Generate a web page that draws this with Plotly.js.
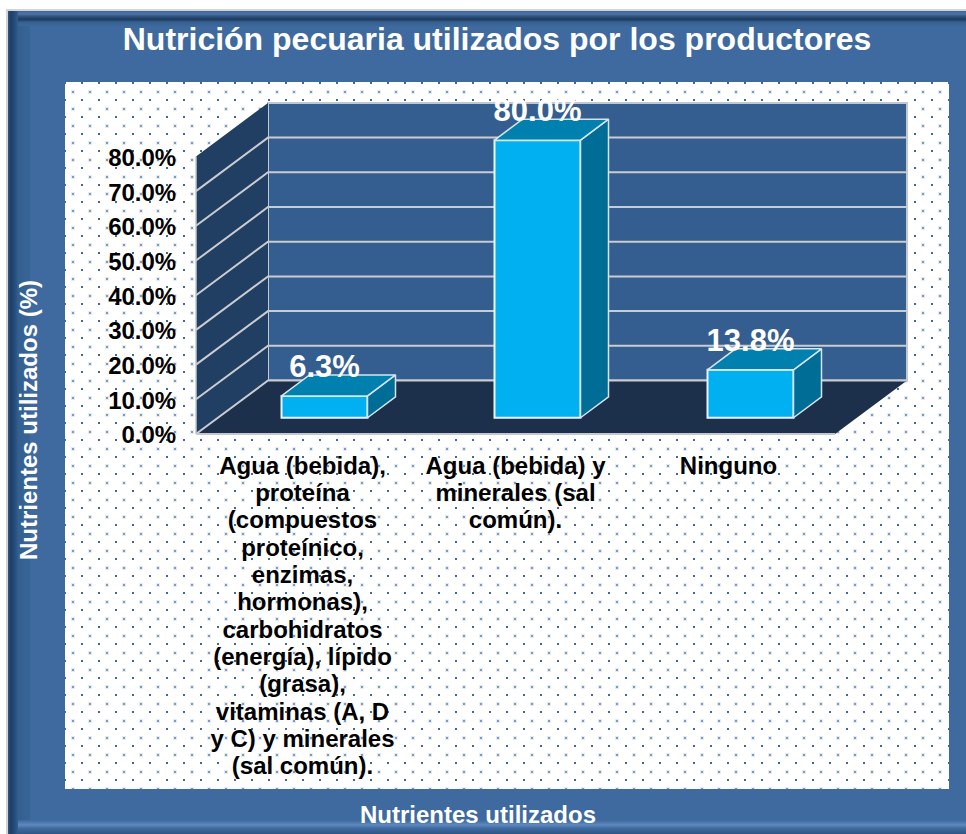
<!DOCTYPE html>
<html>
<head>
<meta charset="utf-8">
<script src="https://cdn.plot.ly/plotly-3.0.1.min.js"></script>
<style>html,body{margin:0;padding:0;background:#fff;overflow:hidden}#chart{width:966px;height:834px}</style>
</head>
<body>
<div id="chart"></div>
<script>
// ---- data ----
const categories = [
  "Agua (bebida),<br>proteína<br>(compuestos<br>proteínico,<br>enzimas,<br>hormonas),<br>carbohidratos<br>(energía), lípido<br>(grasa),<br>vitaminas (A, D<br>y C) y minerales<br>(sal común).",
  "Agua (bebida) y<br>minerales (sal<br>común).",
  "Ninguno"
];
const categoryPositions = [0, 1, 2];
const values = [6.3, 80.0, 13.8];
const valueLabels = ["6.3%", "80.0%", "13.8%"];
const yTicks = [0, 10, 20, 30, 40, 50, 60, 70, 80];
const yTickLabels = ["0.0%", "10.0%", "20.0%", "30.0%", "40.0%", "50.0%", "60.0%", "70.0%", "80.0%"];
const chartTitle = "Nutrición pecuaria utilizados por los productores";
const xTitle = "Nutrientes utilizados";
const yTitle = "Nutrientes utilizados (%)";

// ---- geometry of the oblique projection, in pixels of the page ----
const W = 966, H = 834;
const pxPerCat = 213, pxPerPct = 3.47;
const originX = 196, originY = 434;          // front-left corner of the floor
const depthX = 72 / pxPerCat, depthY = 53.5 / pxPerPct;   // floor depth in data units
const barDX = 28 / pxPerCat, barDY = 21 / pxPerPct;       // bar depth in data units
const barOffX = (depthX - barDX) / 2, barOffY = (depthY - barDY) / 2;
const barW = 86 / pxPerCat;
const axisMax = 80, xL = -0.5, xR = 2.5;

const padL = 6, padR = 4, padT = 4, padB = 4;
const plotL = originX - padL, plotR = originX + (xR - xL + depthX) * pxPerCat + padR;
const plotB = originY + padB, plotT = originY - (axisMax + depthY) * pxPerPct - padT;
const xRange = [xL - padL / pxPerCat, xL + (plotR - originX) / pxPerCat];
const yRange = [-padB / pxPerPct, (originY - plotT) / pxPerPct];

// ---- backdrop painted on a canvas: frame and dotted panel ----
function backdrop() {
  const c = document.createElement('canvas'); c.width = W; c.height = H;
  const g = c.getContext('2d');
  g.fillStyle = '#ffffff'; g.fillRect(0, 0, W, H);
  g.fillStyle = '#d4d4d4'; g.fillRect(6, 9, W - 6, 2); g.fillRect(6, 9, 2, H - 9);
  let gr = g.createLinearGradient(8, 0, 60, 0);
  gr.addColorStop(0, '#2f5684'); gr.addColorStop(0.05, '#1f3f66'); gr.addColorStop(0.12, '#244a78');
  gr.addColorStop(0.2, '#34608f'); gr.addColorStop(0.5, '#39669b'); gr.addColorStop(1, '#3f6a9f');
  g.fillStyle = gr; g.fillRect(8, 11, W - 8, H - 11);
  g.fillStyle = '#3f6a9f'; g.fillRect(30, 21, W - 30, H - 30);
  gr = g.createLinearGradient(0, 11, 0, 26);
  gr.addColorStop(0, '#3c6598'); gr.addColorStop(0.2, '#4c76a8'); gr.addColorStop(0.35, '#2f5582');
  gr.addColorStop(0.55, '#1e3a5e'); gr.addColorStop(0.75, '#35608f'); gr.addColorStop(1, '#3d689d');
  g.fillStyle = gr; g.fillRect(18, 11, W - 18, 15);
  gr = g.createLinearGradient(0, 820, 0, 834);
  gr.addColorStop(0, '#3d689d'); gr.addColorStop(0.35, '#5e89bf'); gr.addColorStop(0.6, '#3f6a9f'); gr.addColorStop(1, '#2f5684');
  g.fillStyle = gr; g.fillRect(18, 820, W - 18, 14);
  // panel
  const pl = 65, pt = 82, pr = 949, pb = 789;
  g.fillStyle = '#ffffff'; g.fillRect(pl, pt, pr - pl, pb - pt);
  g.save(); g.beginPath(); g.rect(pl, pt, pr - pl, pb - pt); g.clip();
  for (let row = 0; row < 84; row++) {
    const y = 83 + row * 8.5;
    const dark = row % 2 === 0;
    for (let x = dark ? 64.7 : 73.2; x < pr + 2; x += 17) {
      if (dark) {
        g.fillStyle = 'rgba(43,87,151,0.9)';
        g.fillRect(Math.round(x) - 1, Math.round(y) - 1, 2, 2);
      } else {
        const px = Math.round(x), py = Math.round(y);
        g.fillStyle = 'rgba(43,87,151,0.12)'; g.fillRect(px - 2, py - 2, 4, 4);
        g.fillStyle = 'rgba(43,87,151,0.55)'; g.fillRect(px - 1, py - 1, 2, 2);
      }
    }
  }
  g.restore();
  return c.toDataURL('image/png');
}

// ---- walls, floor and grid as layout shapes built from the ticks ----
const path = pts => 'M' + pts.map(p => p[0] + ',' + p[1]).join(' L') + ' Z';
const openPath = pts => 'M' + pts.map(p => p[0] + ',' + p[1]).join(' L');
const xBack = xR + depthX;
const gridStyle = { color: '#c9ccd0', width: 2 };
const shapes = [
  { type: 'path', xref: 'x', yref: 'y', layer: 'below', fillcolor: '#355e90', line: { color: '#c4c8ce', width: 2 },
    path: path([[xL + depthX, depthY], [xL + depthX, axisMax + depthY], [xBack, axisMax + depthY], [xBack, depthY]]) },
  { type: 'path', xref: 'x', yref: 'y', layer: 'below', fillcolor: '#213f62', line: { color: 'rgba(0,0,0,0)', width: 0 },
    path: path([[xL, 0], [xL, axisMax], [xL + depthX, axisMax + depthY], [xL + depthX, depthY]]) },
  { type: 'path', xref: 'x', yref: 'y', layer: 'below', fillcolor: '#1c2f4b', line: { color: 'rgba(0,0,0,0)', width: 0 },
    path: path([[xL, 0], [xL + depthX, depthY], [xBack, depthY], [xR, 0]]) },
  { type: 'line', xref: 'x', yref: 'y', layer: 'below', line: { color: '#c4c8ce', width: 2 },
    x0: xL, x1: xR, y0: 0, y1: 0 },
  { type: 'line', xref: 'x', yref: 'y', layer: 'below', line: { color: '#c4c8ce', width: 1.5 },
    x0: xL, x1: xL, y0: 0, y1: axisMax }
].concat(yTicks.slice(0, -1).map(v => ({
  type: 'path', xref: 'x', yref: 'y', layer: 'below', line: gridStyle,
  path: openPath([[xL, v], [xL + depthX, v + depthY], [xBack, v + depthY]])
})));

// ---- bars: front face is a real bar trace, top and side are derived from the same values ----
const barX = categoryPositions.map(c => c + barOffX);
const topX = [], topY = [], sideX = [], sideY = [];
categoryPositions.forEach((c, i) => {
  const l = barX[i] - barW / 2, r = barX[i] + barW / 2, b = barOffY, t = barOffY + values[i];
  topX.push(l, r, r + barDX, l + barDX, l, null);
  topY.push(t, t, t + barDY, t + barDY, t, null);
  sideX.push(r, r + barDX, r + barDX, r, r, null);
  sideY.push(b, b + barDY, t + barDY, t, b, null);
});
const labelLift = 27 / pxPerPct;

const traces = [
  { type: 'bar', x: barX, y: values, base: barOffY, width: barW,
    marker: { color: '#00b0f0', line: { color: '#eaf6fb', width: 2 } }, hoverinfo: 'skip', showlegend: false },
  { type: 'scatter', mode: 'lines', x: sideX, y: sideY, fill: 'toself', fillcolor: '#006d96',
    line: { color: '#d6e4ea', width: 1.5 }, hoverinfo: 'skip', showlegend: false },
  { type: 'scatter', mode: 'lines', x: topX, y: topY, fill: 'toself', fillcolor: '#0080ae',
    line: { color: '#d6e4ea', width: 1.5 }, hoverinfo: 'skip', showlegend: false },
  { type: 'scatter', mode: 'text', x: barX, y: values.map(v => v + barOffY + labelLift), text: valueLabels,
    textposition: 'middle center', cliponaxis: false,
    textfont: { family: 'Liberation Sans, Arial, sans-serif', size: 31, color: '#ffffff', weight: 700 },
    hoverinfo: 'skip', showlegend: false }
];

const FONT = 'Liberation Sans, Arial, sans-serif';
const layout = {
  width: W, height: H, autosize: false,
  margin: { l: 0, r: 0, t: 0, b: 0, pad: 0 },
  paper_bgcolor: 'rgba(0,0,0,0)', plot_bgcolor: 'rgba(0,0,0,0)',
  showlegend: false, hovermode: false, barmode: 'overlay',
  title: { text: chartTitle, x: 497 / W, xanchor: 'center', y: 1 - 39 / H, yanchor: 'middle',
    xref: 'paper', yref: 'paper', font: { family: FONT, size: 32, color: '#ffffff', weight: 700 } },
  xaxis: { domain: [plotL / W, plotR / W], range: xRange, tickmode: 'array', tickvals: categoryPositions, ticktext: categories,
    showgrid: false, zeroline: false, showline: false, ticks: 'outside', ticklen: 6, tickcolor: 'rgba(0,0,0,0)',
    automargin: false, tickangle: 0, tickfont: { family: FONT, size: 24, color: '#000', weight: 700 } },
  yaxis: { domain: [1 - plotB / H, 1 - plotT / H], range: yRange, tickmode: 'array', tickvals: yTicks, ticktext: yTickLabels,
    showgrid: false, zeroline: false, showline: false, ticks: 'outside', ticklen: 8, tickcolor: 'rgba(0,0,0,0)',
    automargin: false, ticklabelshift: 1, tickfont: { family: FONT, size: 24, color: '#000', weight: 700 } },
  shapes: shapes,
  images: [{ source: backdrop(), xref: 'paper', yref: 'paper', x: 0, y: 1, sizex: 1, sizey: 1,
    xanchor: 'left', yanchor: 'top', sizing: 'stretch', layer: 'below' }],
  annotations: [
    { text: xTitle, xref: 'paper', yref: 'paper', x: 478 / W, y: 1 - 814 / H, xanchor: 'center', yanchor: 'middle', showarrow: false,
      font: { family: FONT, size: 24, color: '#fff', weight: 700 } },
    { text: yTitle, xref: 'paper', yref: 'paper', x: 28 / W, y: 1 - 420 / H, xanchor: 'center', yanchor: 'middle', showarrow: false, textangle: -90,
      font: { family: FONT, size: 24, color: '#fff', weight: 700 } }
  ]
};

Plotly.newPlot('chart', traces, layout, { displayModeBar: false, staticPlot: true }).then(() => {
  // The reference sets its category labels tighter than Plotly's fixed 1.3em line spacing.
  document.querySelectorAll('#chart .xtick text tspan.line').forEach(t => {
    const dy = parseFloat(t.getAttribute('dy'));
    if (dy) t.setAttribute('dy', (dy * 27.3 / (1.3 * 24)) + 'em');
  });
});
</script>
</body>
</html>
